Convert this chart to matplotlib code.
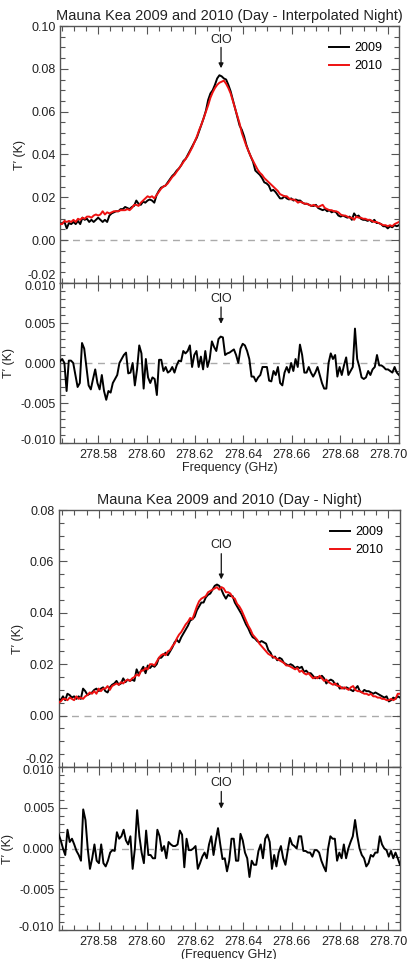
import numpy as np
import matplotlib
matplotlib.use("Agg")
import matplotlib.pyplot as plt
import matplotlib.transforms as mtrans
from matplotlib.ticker import MultipleLocator, FormatStrFormatter, FuncFormatter

plt.rcParams['font.family'] = ['Liberation Sans', 'DejaVu Sans']
plt.rcParams['axes.unicode_minus'] = False

# ---- data (K), equally spaced channels ----
f_lo, f_hi = 278.5642, 278.7044
clo_freq = 278.6308

interp_2009 = [0.0075, 0.008, 0.0085, 0.0055, 0.008, 0.0075, 0.0085, 0.0075, 0.009, 0.0075,
               0.0105, 0.0095, 0.010, 0.0085, 0.0095, 0.0085, 0.0095, 0.0105, 0.0095, 0.0085,
               0.0095, 0.0085, 0.0115, 0.0125, 0.013, 0.0135, 0.0135, 0.0145, 0.0145, 0.0155,
               0.015, 0.0145, 0.0155, 0.016, 0.0185, 0.017, 0.0165, 0.018, 0.0175, 0.0185,
               0.019, 0.0185, 0.0175, 0.021, 0.023, 0.0245, 0.025, 0.0255, 0.027, 0.0285,
               0.030, 0.031, 0.0325, 0.0335, 0.035, 0.037, 0.038, 0.040, 0.042, 0.044,
               0.046, 0.048, 0.051, 0.054, 0.057, 0.0605, 0.0655, 0.0685, 0.070, 0.0725,
               0.0755, 0.077, 0.0765, 0.0755, 0.075, 0.0725, 0.0695, 0.0655, 0.0615, 0.0575,
               0.0535, 0.0515, 0.0485, 0.0445, 0.0415, 0.039, 0.0365, 0.0325, 0.0315, 0.0305,
               0.029, 0.027, 0.0265, 0.0255, 0.023, 0.0235, 0.0225, 0.021, 0.0195, 0.0195,
               0.0205, 0.0195, 0.019, 0.0195, 0.0185, 0.019, 0.0185, 0.0185, 0.0175, 0.017,
               0.017, 0.0165, 0.016, 0.016, 0.0165, 0.015, 0.0145, 0.014, 0.0145, 0.0135,
               0.014, 0.013, 0.0135, 0.013, 0.0115, 0.011, 0.0115, 0.011, 0.0105, 0.011,
               0.0095, 0.0125, 0.011, 0.0115, 0.010, 0.0095, 0.0095, 0.009, 0.0095, 0.0085,
               0.0095, 0.008, 0.008, 0.0075, 0.0065, 0.0065, 0.0055, 0.0065, 0.006, 0.007,
               0.0065, 0.007]

interp_2010 = [0.0075, 0.0075, 0.009, 0.0085, 0.009, 0.0085, 0.0095, 0.0085, 0.010, 0.0095,
               0.0105, 0.010, 0.011, 0.011, 0.0105, 0.0115, 0.012, 0.0115, 0.012, 0.0135,
               0.012, 0.013, 0.0125, 0.013, 0.0135, 0.0135, 0.0135, 0.014, 0.014, 0.014,
               0.0145, 0.014, 0.015, 0.0165, 0.0165, 0.016, 0.0175, 0.0185, 0.0195, 0.0205,
               0.020, 0.0205, 0.0195, 0.021, 0.0225, 0.024, 0.025, 0.0255, 0.0265, 0.028,
               0.0295, 0.0305, 0.032, 0.0335, 0.035, 0.0365, 0.038, 0.0395, 0.0415, 0.0435,
               0.046, 0.0485, 0.0515, 0.054, 0.057, 0.060, 0.063, 0.0665, 0.069, 0.071,
               0.0725, 0.0735, 0.074, 0.0745, 0.073, 0.071, 0.0685, 0.065, 0.0615, 0.058,
               0.0545, 0.050, 0.047, 0.044, 0.0415, 0.039, 0.037, 0.035, 0.033, 0.0315,
               0.0305, 0.029, 0.028, 0.027, 0.026, 0.025, 0.024, 0.023, 0.0215, 0.021,
               0.0205, 0.0205, 0.0195, 0.019, 0.019, 0.0185, 0.0175, 0.018, 0.0175, 0.017,
               0.017, 0.0165, 0.016, 0.0165, 0.016, 0.0155, 0.016, 0.0165, 0.015, 0.0145,
               0.014, 0.014, 0.0135, 0.0135, 0.013, 0.012, 0.0115, 0.0115, 0.011, 0.0105,
               0.0105, 0.0095, 0.011, 0.0105, 0.0105, 0.010, 0.010, 0.0095, 0.0095, 0.009,
               0.0085, 0.0085, 0.008, 0.0075, 0.007, 0.007, 0.0065, 0.007, 0.0065, 0.0075,
               0.008, 0.0085]

interp_resid = [0.0002, 0.0005, 0.0000, -0.0035, 0.0003, 0.0003, 0.0000, -0.0015, -0.003, -0.0025,
                0.0025, 0.0018, -0.0005, -0.0028, -0.0033, -0.002, -0.0008, -0.0025, -0.0033, -0.0015,
                -0.0035, -0.0046, -0.0035, -0.0037, -0.0025, -0.002, -0.0015, 0.0000, 0.0005, 0.001,
                0.0013, -0.0013, -0.0012, 0.0000, -0.0028, -0.0008, 0.0022, 0.0012, -0.0032, 0.0005,
                -0.0018, -0.0025, -0.0018, -0.002, -0.004, 0.0004, 0.0004, -0.001, -0.0005, -0.0012,
                -0.001, -0.0005, -0.0012, -0.0003, 0.0003, 0.0002, 0.0015, 0.0012, 0.0015, 0.0022,
                -0.0005, 0.001, 0.0015, -0.0005, 0.0008, -0.0008, 0.0015, -0.0005, 0.0005, 0.0027,
                0.0020, 0.0015, 0.003, 0.0033, 0.0032, 0.0010, 0.0012, 0.0013, 0.0015, 0.0017,
                0.001, 0.0000, 0.0018, 0.0024, 0.0022, 0.0015, 0.0005, -0.0017, -0.0017, -0.0023,
                -0.0018, -0.0015, -0.0005, -0.0005, -0.0005, -0.0022, -0.0023, -0.001, -0.0015, -0.0005,
                -0.0025, -0.0028, -0.0012, -0.0005, -0.0012, 0.0000, -0.0010, 0.0005, -0.0005, 0.0023,
                0.0010, -0.0012, -0.0012, -0.0005, -0.0012, -0.0017, -0.0012, -0.0005, -0.0015, -0.0025,
                -0.0032, -0.0032, 0.0000, 0.0012, 0.0005, 0.001, -0.0017, -0.0005, -0.0015, -0.0003,
                0.0007, -0.0015, -0.001, -0.0005, 0.0043, 0.0005, -0.0005, -0.0018, -0.002, -0.0018,
                -0.001, -0.0015, -0.0008, -0.0005, 0.001, -0.0003, -0.0003, -0.0005, -0.0008, -0.0008,
                -0.001, -0.0012, -0.0005, -0.0012, -0.0015]

night_2009 = [0.0065, 0.006, 0.0075, 0.006, 0.0085, 0.008, 0.007, 0.0075, 0.0065, 0.0075,
              0.0065, 0.0105, 0.0095, 0.008, 0.0085, 0.009, 0.010, 0.0105, 0.0095, 0.0105,
              0.011, 0.0095, 0.009, 0.011, 0.012, 0.0125, 0.0135, 0.012, 0.0125, 0.0145,
              0.013, 0.014, 0.0135, 0.014, 0.0135, 0.018, 0.016, 0.0175, 0.019, 0.0165,
              0.0195, 0.0185, 0.0195, 0.019, 0.020, 0.0225, 0.0225, 0.0235, 0.0245, 0.0235,
              0.025, 0.0265, 0.0285, 0.0295, 0.0285, 0.0305, 0.032, 0.0335, 0.035, 0.037,
              0.0375, 0.0385, 0.041, 0.0425, 0.044, 0.044, 0.046, 0.047, 0.0475, 0.049,
              0.0505, 0.051, 0.0505, 0.049, 0.047, 0.0455, 0.047, 0.0465, 0.0465, 0.044,
              0.0425, 0.041, 0.0395, 0.0375, 0.0355, 0.034, 0.032, 0.0305, 0.030, 0.029,
              0.0285, 0.029, 0.0285, 0.028, 0.0255, 0.0245, 0.0225, 0.023, 0.0215, 0.0225,
              0.022, 0.0205, 0.020, 0.0195, 0.020, 0.0195, 0.0185, 0.019, 0.0185, 0.019,
              0.017, 0.0175, 0.0165, 0.0165, 0.0155, 0.0145, 0.015, 0.0145, 0.0155, 0.0145,
              0.0125, 0.0135, 0.014, 0.0135, 0.012, 0.0125, 0.0105, 0.011, 0.0105, 0.011,
              0.0105, 0.010, 0.0095, 0.0105, 0.0115, 0.0095, 0.009, 0.010, 0.0095, 0.0095,
              0.009, 0.0085, 0.009, 0.0085, 0.008, 0.0075, 0.007, 0.0075, 0.0055, 0.006,
              0.007, 0.0065, 0.0075, 0.007]

night_2010 = [0.005, 0.0055, 0.0065, 0.0065, 0.006, 0.007, 0.0065, 0.006, 0.0075, 0.0065,
              0.007, 0.0065, 0.0075, 0.008, 0.009, 0.0085, 0.0095, 0.0085, 0.0105, 0.0095,
              0.0105, 0.0105, 0.0115, 0.010, 0.0115, 0.012, 0.0125, 0.012, 0.013, 0.0125,
              0.0135, 0.014, 0.0135, 0.0145, 0.015, 0.016, 0.0155, 0.0175, 0.0175, 0.0185,
              0.018, 0.020, 0.020, 0.0195, 0.021, 0.0225, 0.0235, 0.024, 0.0235, 0.025,
              0.0255, 0.027, 0.028, 0.030, 0.0315, 0.0325, 0.034, 0.0355, 0.0365, 0.038,
              0.0375, 0.040, 0.0425, 0.0445, 0.0455, 0.046, 0.0465, 0.048, 0.0485, 0.049,
              0.0495, 0.050, 0.049, 0.050, 0.0495, 0.048, 0.048, 0.0475, 0.046, 0.0455,
              0.0435, 0.0425, 0.041, 0.039, 0.037, 0.035, 0.0335, 0.0315, 0.0305, 0.0295,
              0.028, 0.027, 0.026, 0.025, 0.024, 0.0235, 0.023, 0.0225, 0.022, 0.0215,
              0.021, 0.0205, 0.0195, 0.0195, 0.019, 0.0185, 0.018, 0.0185, 0.017, 0.0175,
              0.0165, 0.016, 0.0165, 0.0155, 0.0145, 0.015, 0.0145, 0.0155, 0.0145, 0.0135,
              0.014, 0.013, 0.0125, 0.012, 0.0125, 0.0115, 0.0115, 0.0105, 0.011, 0.0105,
              0.010, 0.011, 0.0115, 0.010, 0.0095, 0.0095, 0.009, 0.0085, 0.0085, 0.008,
              0.0085, 0.0075, 0.0075, 0.007, 0.007, 0.0065, 0.0065, 0.006, 0.006, 0.0065,
              0.006, 0.0065, 0.0085, 0.0085]

night_resid = [0.0018, 0.001, 0.000, -0.0008, 0.0023, 0.0008, 0.0012, 0.0005, -0.0003, -0.0008,
               -0.0015, 0.0048, 0.0035, 0.000, -0.0025, -0.0012, 0.0005, -0.0015, -0.0018, 0.0005,
               -0.0018, -0.0022, -0.0015, -0.0005, -0.0002, -0.0003, 0.002, 0.0012, 0.0015, 0.0023,
               0.001, 0.0005, 0.0015, -0.0025, 0.0000, 0.0047, 0.0015, -0.0005, -0.0018, 0.0022,
               -0.0008, -0.0008, -0.0012, -0.0012, 0.0023, 0.0015, -0.0003, 0.0003, -0.0012, 0.0008,
               0.0005, 0.0003, 0.0003, 0.0005, 0.0022, 0.0017, -0.0023, 0.0012, -0.0002, -0.0002,
               0.0000, 0.0003, -0.0025, -0.0018, -0.001, -0.0005, -0.0012, 0.0005, 0.0015, -0.0008,
               0.001, 0.0025, 0.0005, -0.0013, -0.0012, -0.0028, -0.0015, 0.0012, 0.0012, -0.0015,
               -0.0015, 0.0018, 0.001, -0.0005, -0.0012, -0.0035, -0.0015, -0.002, -0.002, -0.0003,
               0.0005, -0.0012, 0.0012, 0.0017, 0.0008, -0.0025, -0.0008, -0.0022, -0.0005, 0.0003,
               -0.0012, -0.002, -0.0003, 0.0013, 0.0005, 0.0003, 0.0000, 0.0015, 0.0015, -0.0003,
               -0.0003, -0.0005, -0.0005, -0.0010, -0.0002, -0.0002, -0.0005, -0.0015, -0.0022, -0.0028,
               0.0000, 0.0015, 0.0012, 0.0012, -0.0015, -0.0005, -0.0012, 0.0005, -0.0012, 0.0000,
               0.0008, 0.0015, 0.0035, 0.0015, 0.0000, -0.0008, -0.0012, -0.0022, -0.0018, -0.0008,
               -0.001, -0.0005, -0.0005, 0.0015, 0.0005, 0.0000, -0.0002, -0.0010, -0.0003, -0.0012,
               -0.0005, -0.0012, -0.002]

spec_ticks_a = [-0.02, 0.0, 0.02, 0.04, 0.06, 0.08, 0.10]
spec_ticks_b = [-0.02, 0.0, 0.02, 0.04, 0.06, 0.08]
resid_ticks = [-0.010, -0.005, 0.0, 0.005, 0.010]

W, H = 409, 959
fig = plt.figure(figsize=(W / 100, H / 100), dpi=100)

def box(l, t, r, b):
    return [l / W, 1 - b / H, (r - l) / W, (b - t) / H]

spine_col = '#555555'
txt_col = '#222222'

def style(ax, yticks, ymin, fmt, xlim, shifts):
    ax.set_xlim(*xlim)
    ax.xaxis.set_major_locator(MultipleLocator(0.02))
    ax.xaxis.set_minor_locator(MultipleLocator(0.005))
    ax.xaxis.set_major_formatter(FormatStrFormatter('%.2f'))
    ax.set_yticks(yticks)
    ax.yaxis.set_minor_locator(MultipleLocator(ymin))
    # end labels are drawn by hand a few pixels inward (IDL style)
    ax.yaxis.set_major_formatter(FuncFormatter(
        lambda v, p: '' if any(abs(v - s) < 1e-9 for s in shifts) else fmt % v))
    for v, dy in shifts.items():
        tr = ax.get_yaxis_transform() + mtrans.ScaledTranslation(
            -3 / 72, dy / 100, fig.dpi_scale_trans)
        ax.text(0, v, fmt % v, transform=tr, ha='right', va='center',
                fontsize=9, color=txt_col, clip_on=False)
    ax.tick_params(which='both', direction='in', top=True, right=True,
                   color=spine_col, labelsize=9, labelcolor=txt_col)
    ax.tick_params(axis='x', pad=4)
    ax.tick_params(axis='y', pad=3)
    ax.tick_params(which='major', length=6, width=0.8)
    ax.tick_params(which='minor', length=3.5, width=0.8)
    for s in ax.spines.values():
        s.set_color(spine_col)
        s.set_linewidth(1.0)
    ax.axhline(0, color='#aaaaaa', lw=1.0, ls=(0, (5, 4)), zorder=1)
    ax.set_ylabel('T\u2032 (K)', fontsize=9, color=txt_col, labelpad=4)

def clo(ax, ytext, ytail, ytip):
    ax.annotate('', xy=(clo_freq, ytip), xytext=(clo_freq, ytail),
                arrowprops=dict(arrowstyle='-|>', color='#111111', lw=0.9,
                                mutation_scale=7, shrinkA=0, shrinkB=0))
    ax.text(clo_freq, ytext, 'ClO', ha='center', va='center', fontsize=9, color=txt_col)

groups = [
    ('Mauna Kea 2009 and 2010 (Day - Interpolated Night)', interp_2009, interp_2010,
     interp_resid, 'Frequency (GHz)', (60, 26, 399, 283, 443), (f_lo, f_hi),
     spec_ticks_a, (0.0935, 0.090, 0.0803)),
    ('Mauna Kea 2009 and 2010 (Day - Night)', night_2009, night_2010,
     night_resid, '(Frequency GHz)', (58.5, 510, 400, 767, 930), (278.5634, 278.7048),
     spec_ticks_b, (0.0664, 0.063, 0.053)),
]

for title, s09, s10, res, xlab, (l, t, r, m, b), xlim, yt, arr in groups:
    ax = fig.add_axes(box(l, t, r, m))
    f09 = np.linspace(xlim[0], xlim[1], len(s09))
    f10 = np.linspace(xlim[0], xlim[1], len(s10))
    ax.plot(f09, s09, color='black', lw=1.4, label='2009', zorder=3)
    ax.plot(f10, s10, color='#ee1111', lw=1.4, label='2010', zorder=4)
    style(ax, yt, 0.005, '%.2f', xlim, {yt[0]: 7, yt[-1]: -2})
    ax.set_ylim(yt[0], yt[-1])
    ax.tick_params(axis='x', labelbottom=False)
    ax.set_title(title, fontsize=10.5, color=txt_col, pad=4)
    clo(ax, *arr)
    ax.legend(loc='upper right', frameon=False, fontsize=9, handlelength=1.6,
              handletextpad=0.45, labelspacing=0.45, borderaxespad=0.9)

    ax2 = fig.add_axes(box(l, m, r, b))
    fr = np.linspace(xlim[0], xlim[1], len(res))
    ax2.plot(fr, res, color='black', lw=1.4, zorder=3)
    style(ax2, resid_ticks, 0.001, '%.3f', xlim, {resid_ticks[0]: 2, resid_ticks[-1]: -4})
    ax2.set_ylim(-0.0100, 0.0100)
    ax2.set_xlabel(xlab, fontsize=9, color=txt_col, labelpad=1)
    clo(ax2, 0.0080, 0.0070, 0.0049)

fig.savefig('out.png', dpi=100)
